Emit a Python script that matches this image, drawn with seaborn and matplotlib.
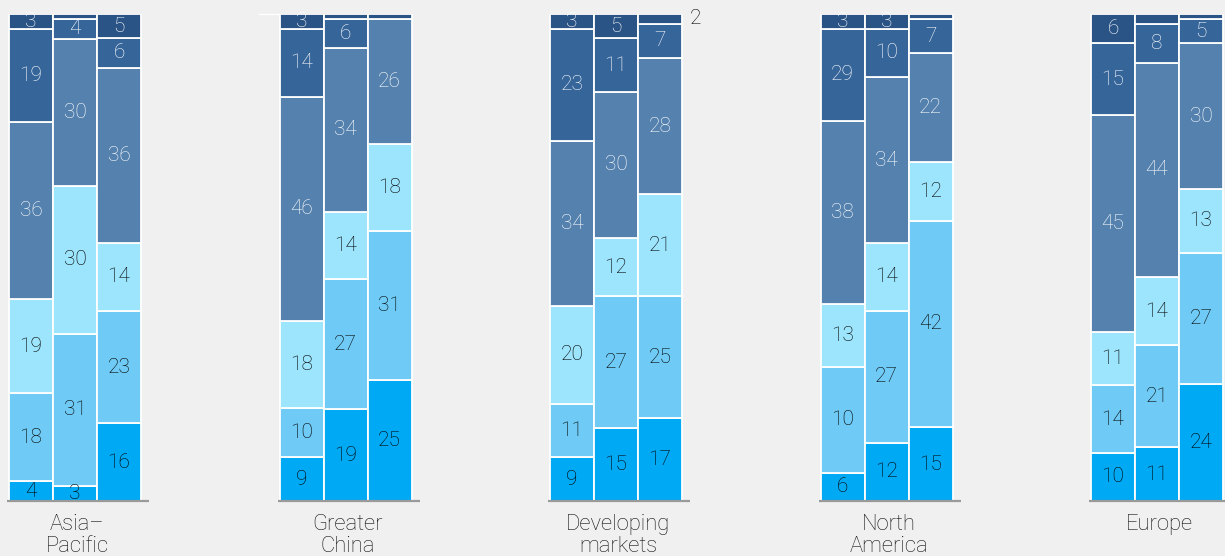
import matplotlib
matplotlib.use("Agg")
import matplotlib.pyplot as plt
import seaborn as sns
import numpy as np

# Data (bottom segment first, three bars per region)
regions = ["Asia–\nPacific", "Greater\nChina", "Developing\nmarkets", "North\nAmerica", "Europe"]
asia_pacific = [[4, 18, 19, 36, 19, 3], [3, 31, 30, 30, 4, 1], [16, 23, 14, 36, 6, 5]]
greater_china = [[9, 10, 18, 46, 14, 3], [19, 27, 14, 34, 6, 1], [25, 31, 18, 26, 0, 1]]
developing_markets = [[9, 11, 20, 34, 23, 3], [15, 27, 12, 30, 11, 5], [17, 25, 21, 28, 7, 2]]
# first North America bar is drawn with heights that differ from its printed labels
north_america = [[5.8, 21.8, 12.9, 37.6, 18.9, 3], [12, 27, 14, 34, 10, 3], [15, 42, 12, 22, 7, 1]]
north_america_bar1_labels = [6, 10, 13, 38, 29, 3]
europe = [[10, 14, 11, 45, 15, 6], [11, 21, 14, 44, 8, 2], [24, 27, 13, 30, 5, 1]]
data = [asia_pacific, greater_china, developing_markets, north_america, europe]

label_override = {(3, 0): north_america_bar1_labels}
# labels drawn outside the bar (region index, bar index)
outside_labels = [(2, 2)]

colors = ["#00A9F4", "#6FCBF5", "#9DE5FD", "#5581AE", "#36659A", "#2B5486"]
text_colors = ["#000000"] * 3 + ["white"] * 3

sns.set_theme(style="white", rc={"figure.facecolor": "#F0F0F0", "axes.facecolor": "#F0F0F0"})
plt.rcParams["font.family"] = ["Roboto", "DejaVu Sans"]

fig = plt.figure(figsize=(12.25, 5.56), dpi=100)
ax = fig.add_axes([0, 55 / 556, 1, 487 / 556])
ax.set_xlim(0, 1225)
ax.set_ylim(0, 100)
ax.axis("off")

x0 = 9
group_step = 270.5
bar_w = 44

for g, bars in enumerate(data):
    left = x0 + g * group_step
    for b, vals in enumerate(bars):
        vals = np.array(vals, dtype=float)
        heights = vals * 100 / vals.sum()  # bars fill to 100
        labels = label_override.get((g, b), [int(round(v)) for v in vals])
        x = left + b * bar_w + bar_w / 2
        bottom = 0
        for s, (lab, h) in enumerate(zip(labels, heights)):
            if h > 0:
                ax.bar(x, h, width=bar_w, bottom=bottom, color=colors[s],
                       edgecolor="white", linewidth=1.3)
            if lab >= 3:
                ax.text(x, bottom + h / 2, f"{lab}", ha="center", va="center",
                        fontsize=15, color=text_colors[s], fontweight="light")
            elif (g, b) in outside_labels and s == len(vals) - 1:
                ax.text(x + bar_w / 2 + 8, bottom + h / 2, f"{lab}", ha="left",
                        va="center", fontsize=15, color="#000000", fontweight="light")
            bottom += h
    # baseline
    ax.plot([left - 2, left + 3 * bar_w + 8], [0, 0], color="#9a9a9a", lw=1.6,
            clip_on=False, solid_capstyle="butt")
    ax.text(left + 1.5 * bar_w + 2, -2.7, regions[g], ha="center", va="top",
            fontsize=15.8, color="#111111", linespacing=1.08, fontweight="light")

# small white tick left of Greater China
gc_left = x0 + group_step
ax.plot([gc_left - 21, gc_left], [100, 100], color="white", lw=1, clip_on=False)

fig.savefig("out.png", dpi=100, facecolor=fig.get_facecolor())
